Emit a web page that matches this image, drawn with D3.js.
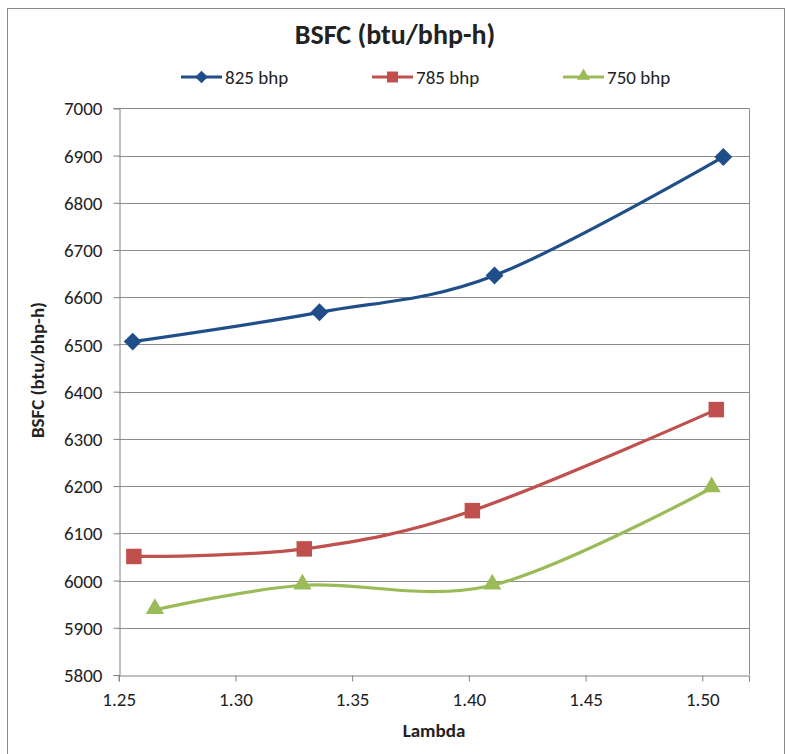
<!DOCTYPE html>
<html>
<head>
<meta charset="utf-8">
<title>BSFC</title>
<style>
  body { margin: 0; background: #fff; }
  svg text { font-family: Carlito, Calibri, Lato, sans-serif; fill: #222; }
</style>
</head>
<body>
<svg id="chart" width="787" height="754"></svg>
<script src="https://d3js.org/d3.v7.min.js"></script>
<script>
// data
var seriesNames = ["825 bhp", "785 bhp", "750 bhp"];
var lambda825 = [1.256, 1.336, 1.411, 1.509];
var bsfc825 = [6506, 6568, 6646, 6897];
var lambda785 = [1.2565, 1.3295, 1.4015, 1.506];
var bsfc785 = [6051, 6067, 6148, 6362];
var lambda750 = [1.2655, 1.3287, 1.410, 1.504];
var bsfc750 = [5938, 5990, 5990, 6196];
var xTicks = [1.25, 1.30, 1.35, 1.40, 1.45, 1.50];
var yTicks = [5800, 5900, 6000, 6100, 6200, 6300, 6400, 6500, 6600, 6700, 6800, 6900, 7000];

var colors = ["#1F4E89", "#C0504D", "#9BBB59"];
// diamond = square turned 45 degrees, like the Excel marker
var symbols = [d3.symbolSquare, d3.symbolSquare, d3.symbolTriangle];
var rotate = [45, 0, 0];
var markerSize = [160, 240, 145];

var series = [
  { name: seriesNames[0], xs: lambda825, ys: bsfc825 },
  { name: seriesNames[1], xs: lambda785, ys: bsfc785 },
  { name: seriesNames[2], xs: lambda750, ys: bsfc750 }
];

var svg = d3.select("#chart");
var plotL = 118.7, plotR = 749, plotT = 108.3, plotB = 675;

// outer chart border
svg.append("rect")
  .attr("x", 7.5).attr("y", 8.5)
  .attr("width", 777).attr("height", 760)
  .attr("fill", "none").attr("stroke", "#8a8a8a").attr("stroke-width", 1);

var x = d3.scaleLinear().domain([1.25, 1.52]).range([plotL, plotR]);
var y = d3.scaleLinear().domain([5800, 7000]).range([plotB, plotT]);

// gridlines
svg.append("g")
  .selectAll("line")
  .data(yTicks.slice(1))
  .enter()
  .append("line")
  .attr("x1", plotL).attr("x2", plotR)
  .attr("y1", function(d){ return Math.round(y(d)) + 0.5; })
  .attr("y2", function(d){ return Math.round(y(d)) + 0.5; })
  .attr("stroke", "#8c8c8c").attr("stroke-width", 1);

// right border of plot area
svg.append("line")
  .attr("x1", plotR + 0.5).attr("x2", plotR + 0.5)
  .attr("y1", plotT).attr("y2", plotB)
  .attr("stroke", "#8c8c8c");

var yAxis = svg.append("g")
  .attr("transform", "translate(" + (Math.round(plotL) + 0.5) + ",0)")
  .call(d3.axisLeft(y).tickValues(yTicks).tickSize(6).tickPadding(11).tickFormat(d3.format("d")));
var xAxis = svg.append("g")
  .attr("transform", "translate(0," + (Math.round(plotB) + 0.5) + ")")
  .call(d3.axisBottom(x).tickValues(xTicks).tickSize(6).tickPadding(11).tickFormat(d3.format(".2f")));

[yAxis, xAxis].forEach(function(a){
  a.select(".domain").attr("stroke", "#808080");
  a.selectAll(".tick line").attr("stroke", "#808080");
  a.selectAll("text").attr("font-size", 19).attr("fill", "#222")
    .attr("font-family", "Carlito, Calibri, Lato, sans-serif");
});
yAxis.selectAll("text").attr("dy", "0.35em");

// lines
var line = d3.line()
  .x(function(d){ return x(d[0]); })
  .y(function(d){ return y(d[1]); })
  .curve(d3.curveCardinal.tension(0));

series.forEach(function(s, i){
  var pts = s.xs.map(function(v, j){ return [v, s.ys[j]]; });
  svg.append("path")
    .datum(pts)
    .attr("d", line)
    .attr("fill", "none")
    .attr("stroke", colors[i])
    .attr("stroke-width", 3.2)
    .attr("stroke-linejoin", "round");
  svg.append("g")
    .selectAll("path")
    .data(pts)
    .enter()
    .append("path")
    .attr("d", d3.symbol().type(symbols[i]).size(markerSize[i]))
    .attr("transform", function(d){
      var dy = i == 2 ? -1 : 0;
      return "translate(" + x(d[0]) + "," + (y(d[1]) + dy) + ") rotate(" + rotate[i] + ")";
    })
    .attr("fill", colors[i]);
});

// title
svg.append("text")
  .attr("x", 395).attr("y", 44)
  .attr("text-anchor", "middle")
  .attr("font-size", 28).attr("font-weight", "bold")
  .text("BSFC (btu/bhp-h)");

// legend
var legendX = [181, 372, 563];
series.forEach(function(s, i){
  var g = svg.append("g").attr("transform", "translate(" + legendX[i] + ",77)");
  g.append("line").attr("x1", 0).attr("x2", 41).attr("y1", 0).attr("y2", 0)
    .attr("stroke", colors[i]).attr("stroke-width", 3.2);
  g.append("path")
    .attr("d", d3.symbol().type(symbols[i]).size(markerSize[i] * 0.5))
    .attr("transform", "translate(20.5," + (i == 2 ? -1 : 0) + ") rotate(" + rotate[i] + ")")
    .attr("fill", colors[i]);
  g.append("text").attr("x", 44).attr("y", 0).attr("dy", "0.35em")
    .attr("font-size", 19).text(s.name);
});

// axis titles
svg.append("text")
  .attr("transform", "translate(44,370) rotate(-90)")
  .attr("text-anchor", "middle")
  .attr("font-size", 19).attr("font-weight", "bold")
  .text("BSFC (btu/bhp-h)");
svg.append("text")
  .attr("x", 434).attr("y", 737)
  .attr("text-anchor", "middle")
  .attr("font-size", 19).attr("font-weight", "bold")
  .text("Lambda");
</script>
</body>
</html>
